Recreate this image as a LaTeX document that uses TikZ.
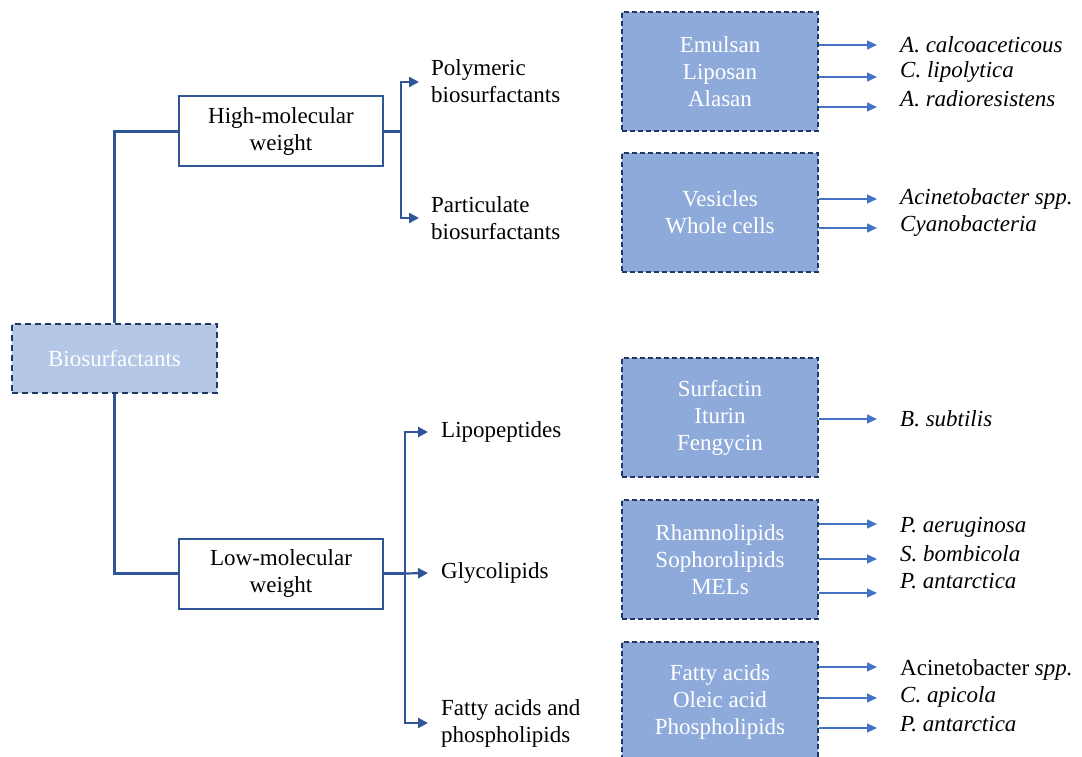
\documentclass[tikz,border=0pt]{standalone}
\usepackage{fontspec}
\setmainfont{Liberation Serif}
\usetikzlibrary{arrows.meta}
\definecolor{lightfill}{HTML}{B4C7E7}
\definecolor{midfill}{HTML}{8EAADB}
\definecolor{navy}{HTML}{203864}
\definecolor{conn}{HTML}{2F5597}
\definecolor{arrblue}{HTML}{4472C4}
\begin{document}
\begin{tikzpicture}[x=1pt,y=-1pt,
  txt/.style={font=\fontsize{23}{27}\selectfont, inner sep=0pt},
  rootbox/.style={txt, draw=navy, dash pattern=on 6pt off 4pt, line width=2pt, fill=lightfill, text=white, minimum width=205, minimum height=69},
  levbox/.style={txt, draw=conn, line width=2pt, fill=white, minimum width=204, minimum height=70, align=center},
  catbox/.style={txt, draw=navy, dash pattern=on 5pt off 3pt, line width=1.6pt, fill=midfill, text=white, minimum width=196, minimum height=119, align=center},
  cls/.style={txt, anchor=west, align=left},
  sp/.style={txt, anchor=west},
  conn/.style={draw=conn, line width=2.2pt},
  connarr/.style={conn, -{Triangle[length=10pt,width=10pt]}},
  arr/.style={draw=arrblue, line width=1.3pt, -{Triangle[length=10pt,width=9pt]}}
]
\useasboundingbox (0,0) rectangle (1082,757);

% root and level nodes
\node[rootbox] (root) at (114.5,358.5) {Biosurfactants};
\node[levbox] (high) at (281,131.5) {High-molecular\\weight};
\node[levbox] (low) at (281,573.5) {Low-molecular\\weight};

\draw[conn] (root.north) |- (high.west);
\draw[conn] (root.south) |- (low.west);

% class labels
\node[cls] (poly) at (431,81) {Polymeric\\biosurfactants};
\node[cls] (part) at (431,218.5) {Particulate\\biosurfactants};
\node[cls] (lipo) at (441,432) {Lipopeptides};
\node[cls] (glyc) at (441,573) {Glycolipids};
\node[cls] (fatty) at (441,723.5) {Fatty acids and\\phospholipids};

\coordinate (hj) at (401,131.5);
\coordinate (lj) at (405,573.5);
\draw[conn] (high.east) -- (hj);
\draw[connarr] (hj) |- ([xshift=-12pt]poly.west |- 0,82);
\draw[connarr] (hj) |- ([xshift=-12pt]part.west |- 0,218);
\draw[conn] (low.east) -- (lj);
\draw[connarr] (lj) |- ([xshift=-13pt]lipo.west);
\draw[connarr] (lj) -- ([xshift=-13pt]glyc.west);
\draw[connarr] (lj) |- ([xshift=-13pt]fatty.west |- 0,723);

% category boxes
\node[catbox] (b1) at (720,71.5) {Emulsan\\Liposan\\Alasan};
\node[catbox] (b2) at (720,212.5) {Vesicles\\Whole cells};
\node[catbox] (b3) at (720,417.5) {Surfactin\\Iturin\\Fengycin};
\node[catbox] (b4) at (720,559.5) {Rhamnolipids\\Sophorolipids\\MELs};
\node[catbox] (b5) at (720,701.5) {Fatty acids\\Oleic acid\\Phospholipids};

% species
\node[sp] (s1a) at (900,45) {\itshape A. calcoaceticous};
\node[sp] (s1b) at (900,72) {\itshape C. lipolytica};
\node[sp] (s1c) at (900,99) {\itshape A. radioresistens};
\node[sp] (s2a) at (900,199) {\itshape Acinetobacter spp.};
\node[sp] (s2b) at (900,226) {\itshape Cyanobacteria};
\node[sp] (s3a) at (900,419) {\itshape B. subtilis};
\node[sp] (s4a) at (900,527) {\itshape P. aeruginosa};
\node[sp] (s4b) at (900,554) {\itshape S. bombicola};
\node[sp] (s4c) at (900,581) {\itshape P. antarctica};
\node[sp] (s5a) at (900,670) {Acinetobacter \itshape spp.};
\node[sp] (s5b) at (900,697) {\itshape C. apicola};
\node[sp] (s5c) at (900,724) {\itshape P. antarctica};

% species arrows
\draw[arr] (b1.east |- 0,45) -- ([xshift=-23pt]s1a.west |- 0,45);
\draw[arr] (b1.east |- 0,77) -- ([xshift=-23pt]s1b.west |- 0,77);
\draw[arr] (b1.east |- 0,107) -- ([xshift=-23pt]s1c.west |- 0,107);
\draw[arr] (b2.east |- 0,199) -- ([xshift=-23pt]s2a.west |- 0,199);
\draw[arr] (b2.east |- 0,228) -- ([xshift=-23pt]s2b.west |- 0,228);
\draw[arr] (b3.east |- 0,419) -- ([xshift=-23pt]s3a.west |- 0,419);
\draw[arr] (b4.east |- 0,524) -- ([xshift=-23pt]s4a.west |- 0,524);
\draw[arr] (b4.east |- 0,559) -- ([xshift=-23pt]s4b.west |- 0,559);
\draw[arr] (b4.east |- 0,593) -- ([xshift=-23pt]s4c.west |- 0,593);
\draw[arr] (b5.east |- 0,667) -- ([xshift=-23pt]s5a.west |- 0,667);
\draw[arr] (b5.east |- 0,698) -- ([xshift=-23pt]s5b.west |- 0,698);
\draw[arr] (b5.east |- 0,728) -- ([xshift=-23pt]s5c.west |- 0,728);
\end{tikzpicture}
\end{document}
